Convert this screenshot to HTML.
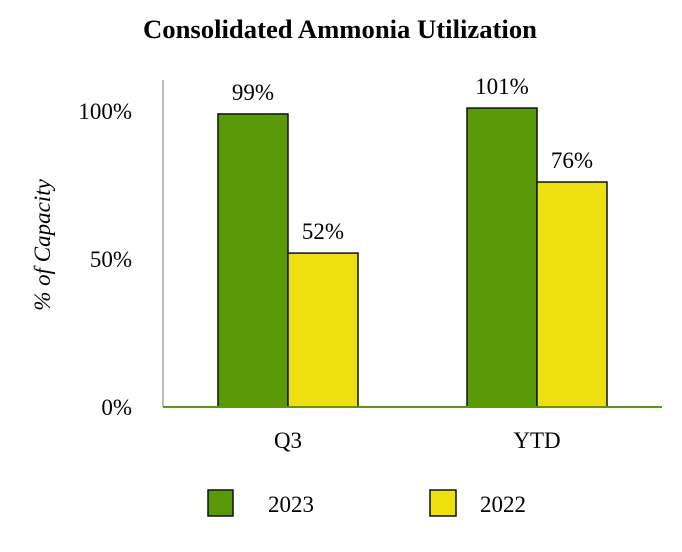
<!DOCTYPE html>
<html><head><meta charset="utf-8"><style>
html,body{margin:0;padding:0;background:#fff;}
svg{display:block;font-family:"Liberation Serif",serif;}
</style></head><body>
<svg id="chart" width="682" height="552">
<text x="340" y="38" text-anchor="middle" font-size="26" font-weight="bold" textLength="394" lengthAdjust="spacingAndGlyphs">Consolidated Ammonia Utilization</text>
<text transform="translate(50,245) rotate(-90)" text-anchor="middle" font-size="23" font-style="italic">% of Capacity</text>
<g id="yticks"></g>
<g id="bars"></g>
<line x1="163" y1="80" x2="163" y2="407" stroke="#a6a6a6" stroke-width="1.5"/>
<line x1="163" y1="407" x2="662" y2="407" stroke="#5a9a08" stroke-width="2"/>
<g>
<rect x="208" y="490" width="25" height="26" fill="#5a9a08" stroke="#111" stroke-width="1.5"/>
<text x="268" y="512" font-size="23">2023</text>
<rect x="430" y="490" width="26" height="26" fill="#eedf10" stroke="#111" stroke-width="1.5"/>
<text x="480" y="512" font-size="23">2022</text>
</g>
</svg>
<script>
const categories = ["Q3", "YTD"];
const values2023 = [99, 101];
const values2022 = [52, 76];
const tickValues = [0, 50, 100];
const tickLabels = ["0%", "50%", "100%"];

const NS = "http://www.w3.org/2000/svg";
const y0 = 407, pxPerPct = 2.96;
const yScale = v => y0 - v * pxPerPct;
const catCenters = [288, 537];
const xScale = i => catCenters[i];
const barW = 70;

const yt = document.getElementById('yticks');
tickValues.forEach((v, i) => {
  const t = document.createElementNS(NS, 'text');
  t.setAttribute('x', 132); t.setAttribute('y', yScale(v) + 8);
  t.setAttribute('text-anchor', 'end'); t.setAttribute('font-size', '23');
  t.textContent = tickLabels[i];
  
  
  yt.appendChild(t);
});

const g = document.getElementById('bars');
function bar(cx, v, color, name) {
  const r = document.createElementNS(NS, 'rect');
  r.setAttribute('x', cx); r.setAttribute('y', yScale(v));
  r.setAttribute('width', barW); r.setAttribute('height', y0 - yScale(v));
  r.setAttribute('fill', color); r.setAttribute('stroke', '#111'); r.setAttribute('stroke-width', '1.5');
  
  
  g.appendChild(r);
  const t = document.createElementNS(NS, 'text');
  t.setAttribute('x', cx + barW / 2); t.setAttribute('y', yScale(v) - 14);
  t.setAttribute('text-anchor', 'middle'); t.setAttribute('font-size', '23');
  t.textContent = v + '%';
  
  
  g.appendChild(t);
}
categories.forEach((c, i) => {
  const cx = xScale(i);
  bar(cx - barW, values2023[i], '#5a9a08', 'bar-2023-' + c.toLowerCase());
  bar(cx, values2022[i], '#eedf10', 'bar-2022-' + c.toLowerCase());
  const t = document.createElementNS(NS, 'text');
  t.setAttribute('x', cx); t.setAttribute('y', 448);
  t.setAttribute('text-anchor', 'middle'); t.setAttribute('font-size', '23');
  t.textContent = c;
  
  
  g.appendChild(t);
});
</script>
</body></html>
